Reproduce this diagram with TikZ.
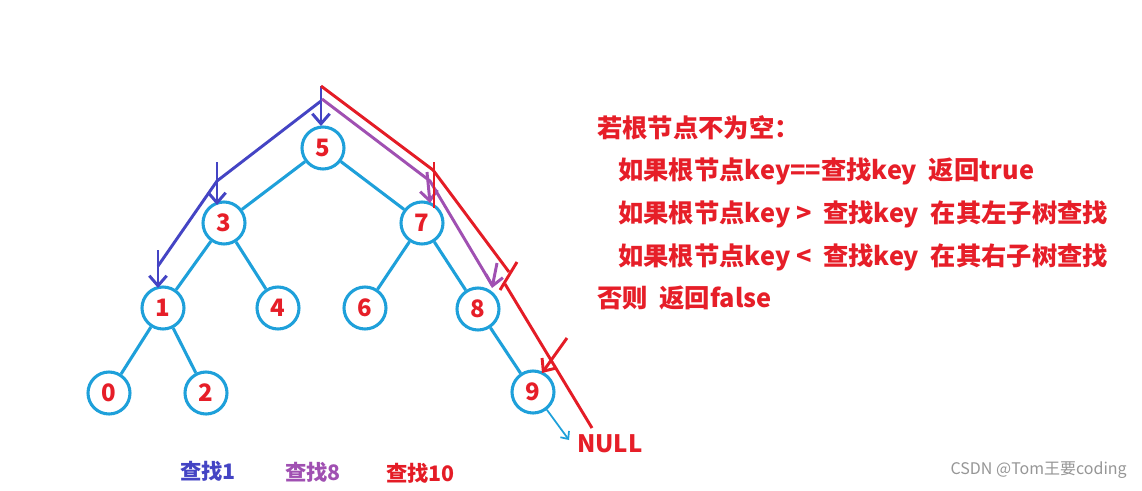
\documentclass[tikz,border=0pt]{standalone}
\usepackage{fontspec}
\setmainfont{Noto Sans CJK SC}
\usetikzlibrary{arrows.meta}
\definecolor{treeblue}{RGB}{30,160,218}
\definecolor{numred}{RGB}{230,30,40}
\definecolor{pathblue}{RGB}{68,68,196}
\definecolor{pathpurple}{RGB}{160,80,178}
\definecolor{pathred}{RGB}{228,28,38}
\definecolor{wmgray}{RGB}{150,150,150}
\begin{document}
\begin{tikzpicture}[x=0.75pt,y=-0.75pt,
  nd/.style={circle, draw=treeblue, line width=2.3pt, minimum size=31.5pt, inner sep=0pt,
    text=numred, font=\fontsize{18}{18}\selectfont\bfseries},
  edge/.style={draw=treeblue, line width=2.3pt},
  pb/.style={draw=pathblue, line width=2.2pt},
  pp/.style={draw=pathpurple, line width=2.2pt},
  pr/.style={draw=pathred, line width=2.2pt},
  tip/.style={-{Straight Barb[length=7.5pt,width=13pt]}},
  smalltip/.style={-{Straight Barb[length=4.5pt,width=8pt]}},
  rule/.style={anchor=west, inner sep=0pt, text=numred, font=\fontsize{19}{22}\selectfont\bfseries},
  lbl/.style={anchor=west, inner sep=0pt, font=\fontsize{16}{18}\selectfont\bfseries}
  ]
\useasboundingbox (0,0) rectangle (1142,490);
\fill[white] (0,0) rectangle (1142,490);

% tree nodes
\node[nd] (n5) at (323,148) {5};
\node[nd] (n3) at (224,223) {3};
\node[nd] (n7) at (422,223) {7};
\node[nd] (n1) at (163,308) {1};
\node[nd] (n4) at (278,308) {4};
\node[nd] (n6) at (365,308) {6};
\node[nd] (n8) at (478,309) {8};
\node[nd] (n0) at (109,393) {0};
\node[nd] (n2) at (206,393) {2};
\node[nd] (n9) at (533,392) {9};

% tree edges
\draw[edge] (n5) -- (n3);
\draw[edge] (n5) -- (n7);
\draw[edge] (n3) -- (n1);
\draw[edge] (n3) -- (n4);
\draw[edge] (n7) -- (n6);
\draw[edge] (n7) -- (n8);
\draw[edge] (n1) -- (n0);
\draw[edge] (n1) -- (n2);
\draw[edge] (n8) -- (n9);

% search path for 1 (blue)
\coordinate (top) at (321,86);
\coordinate (btop) at (321,126);
\coordinate (bs) at (321,101);
\coordinate (bk1) at (217,181);
\coordinate (bk2) at (158,266);
\draw[pb,tip] (top) -- (btop);
\draw[pb] (bs) -- (bk1) -- (bk2);
\coordinate (ba3s) at (217,162);
\coordinate (ba3e) at (217,205);
\draw[pb,tip] (ba3s) -- (ba3e);
\coordinate (ba1s) at (158,250);
\coordinate (ba1e) at (158,288);
\draw[pb,tip] (ba1s) -- (ba1e);

% search path for 8 (purple)
\coordinate (ps) at (322,99);
\coordinate (pk1) at (430,181);
\coordinate (pk2) at (492,285);
\draw[pp] (ps) -- (pk1) -- (pk2);
\coordinate (pa7s) at (427,172);
\coordinate (pa7e) at (430,203);
\draw[pp,tip] (pa7s) -- (pa7e);
\coordinate (pa8s) at (497,263);
\coordinate (pa8e) at (492,288);
\draw[pp,tip] (pa8s) -- (pa8e);

% search path for 10 (red)
\coordinate (rk1) at (433,170);
\coordinate (rk2) at (509,272);
\coordinate (rk3) at (505,284);
\coordinate (rend) at (592,428);
\draw[pr] (top) -- (rk1) -- (rk2);
\draw[pr] (rk3) -- (rend);
\coordinate (rt7s) at (434,162);
\coordinate (rt7e) at (434,208);
\draw[pr] (rt7s) -- (rt7e);
\coordinate (rt8s) at (517,262);
\coordinate (rt8e) at (500,290);
\draw[pr] (rt8s) -- (rt8e);
\coordinate (ra9s) at (567,338);
\coordinate (ra9e) at (542,373);
\draw[pr,tip] (ra9s) -- (ra9e);

% NULL
\node[anchor=west, inner sep=0pt, text=numred, font=\fontsize{18}{20}\selectfont\bfseries] (null) at (577,444) {NULL};
\coordinate (nullend) at (569,440);
\draw[treeblue, line width=1.3pt, smalltip] (n9.-52) -- (nullend);

% rules text
\node[rule] (t1) at (597,128) {若根节点不为空：};
\node[rule] (t2) at (618,171) {如果根节点key==查找key\ \ 返回true};
\node[rule] (t3) at (618,214) {如果根节点key >\ \ 查找key\ \ 在其左子树查找};
\node[rule] (t4) at (618,257) {如果根节点key <\ \ 查找key\ \ 在其右子树查找};
\node[rule] (t5) at (597,298) {否则\ \ 返回false};

% legend labels
\node[lbl, text=pathblue] (l1) at (180,471) {查找1};
\node[lbl, text=pathpurple] (l2) at (285,472) {查找8};
\node[lbl, text=pathred] (l3) at (386,473) {查找10};

% watermark
\node[anchor=east, inner sep=0pt, text=wmgray, font=\fontsize{12}{14}\selectfont] (wm) at (1127,470) {CSDN @Tom王要coding};
\end{tikzpicture}
\end{document}
